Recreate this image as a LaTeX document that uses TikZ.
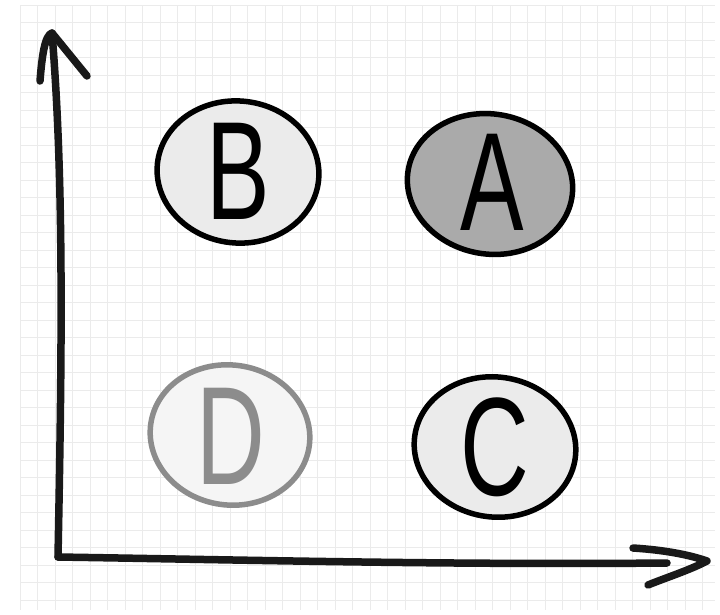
\documentclass[tikz,border=0pt]{standalone}
\usepackage{fontspec}
\setmainfont{Liberation Sans}
\definecolor{gridc}{HTML}{EBEBEB}
\definecolor{fillB}{HTML}{EBEBEB}
\definecolor{fillA}{HTML}{AAAAAA}
\definecolor{fillC}{HTML}{EBEBEB}
\definecolor{fillD}{HTML}{F5F5F5}
\definecolor{grayD}{HTML}{8C8C8C}
\tikzset{
  gridline/.style={draw=gridc, line width=0.8pt},
  axisline/.style={draw=black!90, line width=7.5pt, line cap=round, line join=round},
  blob/.style={line width=5.5pt},
  letter/.style={inner sep=0pt, font=\fontsize{140}{140}\selectfont},
}
\begin{document}
\begin{tikzpicture}[x=1pt,y=-1pt]
\useasboundingbox (0,0) rectangle (720,614);
\fill[white] (0,0) rectangle (720,614);
% grid
\foreach \i in {0,...,39} {
  \draw[gridline] ({20+17.5*\i},5) -- ({20+17.5*\i},610);
}
\foreach \j in {0,...,34} {
  \draw[gridline] (20,{5+17.5*\j}) -- (715,{5+17.5*\j});
}
% coordinates
\coordinate (origin) at (58,557);
\coordinate (ytip) at (52,33);
\coordinate (yl) at (40,81);
\coordinate (yr) at (87,76);
\coordinate (xend) at (667,563);
\coordinate (xtip) at (707,561);
\coordinate (xu) at (633,548);
\coordinate (xd) at (648,585);
% axes
\draw[axisline] (origin) .. controls (62,350) and (64,180) .. (ytip);
\draw[axisline] (yl) .. controls (42,55) and (45,35) .. (ytip) -- (yr);
\draw[axisline] (origin) .. controls (250,560) and (450,565) .. (xend);
\draw[axisline] (xu) .. controls (665,550) and (690,555) .. (xtip) .. controls (690,570) and (665,578) .. (xd);
% blobs
\draw[blob, fill=fillB] (238,172) ellipse [x radius=81, y radius=71, rotate=-6];
\draw[blob, fill=fillA] (490,184) ellipse [x radius=83, y radius=70, rotate=-10];
\draw[blob, draw=grayD, fill=fillD] (230,435) ellipse [x radius=80, y radius=70, rotate=-8];
\draw[blob, fill=fillC] (495,447) ellipse [x radius=81, y radius=70, rotate=-8];
% letters
\node[letter] (B) at (238,171) {\scalebox{0.68}[1]{B}};
\node[letter] (A) at (492,182) {\scalebox{0.68}[1]{A}};
\node[letter, text=grayD] (D) at (231,436) {\scalebox{0.68}[1]{D}};
\node[letter] (C) at (495,447) {\scalebox{0.68}[1]{C}};
\end{tikzpicture}
\end{document}
